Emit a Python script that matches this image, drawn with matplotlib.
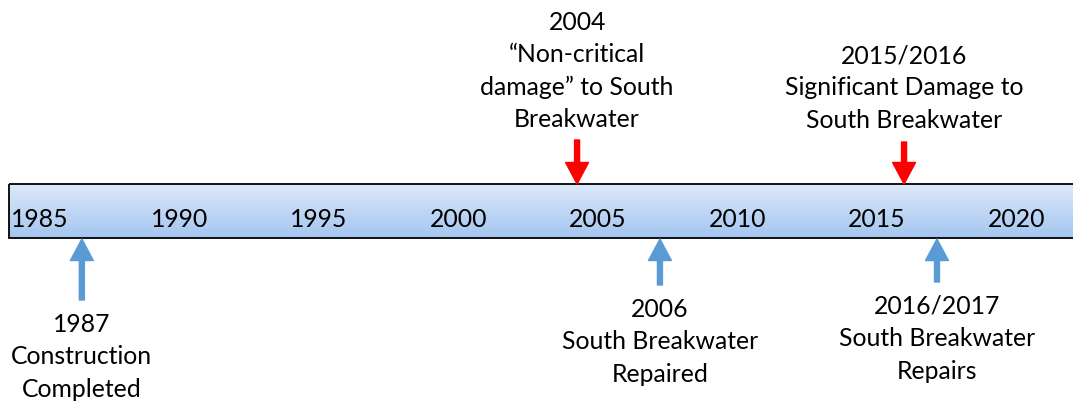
import numpy as np
import matplotlib
matplotlib.use("Agg")
import matplotlib.pyplot as plt
from matplotlib.patches import FancyArrowPatch, Rectangle, ArrowStyle
from matplotlib.colors import LinearSegmentedColormap

# ---- data ----
tick_years = [1985, 1990, 1995, 2000, 2005, 2010, 2015, 2020]
tick_labels = ["1985", "1990", "1995", "2000", "2005", "2010", "2015", "2020"]

damage_years = [2004.25, 2015.97]
damage_labels = ["2004\n\u201cNon-critical\ndamage\u201d to South\nBreakwater",
                 "2015/2016\nSignificant Damage to\nSouth Breakwater"]

repair_years = [1986.5, 2007.22, 2017.15]
repair_labels = ["1987\nConstruction\nCompleted",
                 "2006\nSouth Breakwater\nRepaired",
                 "2016/2017\nSouth Breakwater\nRepairs"]

# ---- layout ----
W, H = 1073, 403
PX_PER_YEAR = 27.9
X0_YEAR = 1985 - 40 / PX_PER_YEAR          # year at left figure edge
X1_YEAR = X0_YEAR + W / PX_PER_YEAR        # year at right figure edge
BAR_TOP, BAR_BOT = 184, 238
BAR_LEFT = X0_YEAR + 9 / PX_PER_YEAR
LINE = 32.3
FONT = "Lato"
FS = 17.8
RED = "#ff0000"
BLUE = "#5b9bd5"

fig = plt.figure(figsize=(W / 100, H / 100), dpi=100)
ax = fig.add_axes([0, 0, 1, 1])
ax.set_xlim(X0_YEAR, X1_YEAR)
ax.set_ylim(H, 0)
ax.axis("off")

# gradient bar
cmap = LinearSegmentedColormap.from_list("bar", ["#dde9f9", "#a3c5f0"])
grad = np.linspace(0, 1, 256).reshape(-1, 1)
ax.imshow(grad, cmap=cmap, aspect="auto", origin="upper",
          extent=[BAR_LEFT, X1_YEAR + 1, BAR_BOT, BAR_TOP], zorder=1)
ax.add_patch(Rectangle((BAR_LEFT, BAR_TOP), X1_YEAR + 1 - BAR_LEFT, BAR_BOT - BAR_TOP,
                       fill=False, edgecolor="black", lw=1.3, zorder=2))

for yr, lab in zip(tick_years, tick_labels):
    ax.text(yr, 227, lab, ha="center", va="baseline", fontsize=FS,
            family=FONT, color="black", zorder=3)

style = ArrowStyle.Simple(head_length=15.5, head_width=16.5, tail_width=3.6)

def block(x, first_baseline, text):
    for i, line in enumerate(text.split("\n")):
        ax.text(x, first_baseline + i * LINE, line, ha="center", va="baseline",
                fontsize=FS, family=FONT, color="black")

# damage events (above bar, red, pointing down)
damage_tail = [140, 142]
damage_first = [30, 63]
for yr, lab, tail, fb in zip(damage_years, damage_labels, damage_tail, damage_first):
    ax.add_patch(FancyArrowPatch((yr, tail), (yr, BAR_TOP), arrowstyle=style,
                                 mutation_scale=1, color=RED, shrinkA=0, shrinkB=0, zorder=4))
    block(yr, fb, lab)

# repair events (below bar, blue, pointing up)
repair_tail = [300, 285, 282]
repair_first = [332, 317, 314]
for yr, lab, tail, fb in zip(repair_years, repair_labels, repair_tail, repair_first):
    ax.add_patch(FancyArrowPatch((yr, tail), (yr, BAR_BOT + 1), arrowstyle=style,
                                 mutation_scale=1, color=BLUE, shrinkA=0, shrinkB=0, zorder=4))
    block(yr, fb, lab)

fig.savefig("out.png", dpi=100)
